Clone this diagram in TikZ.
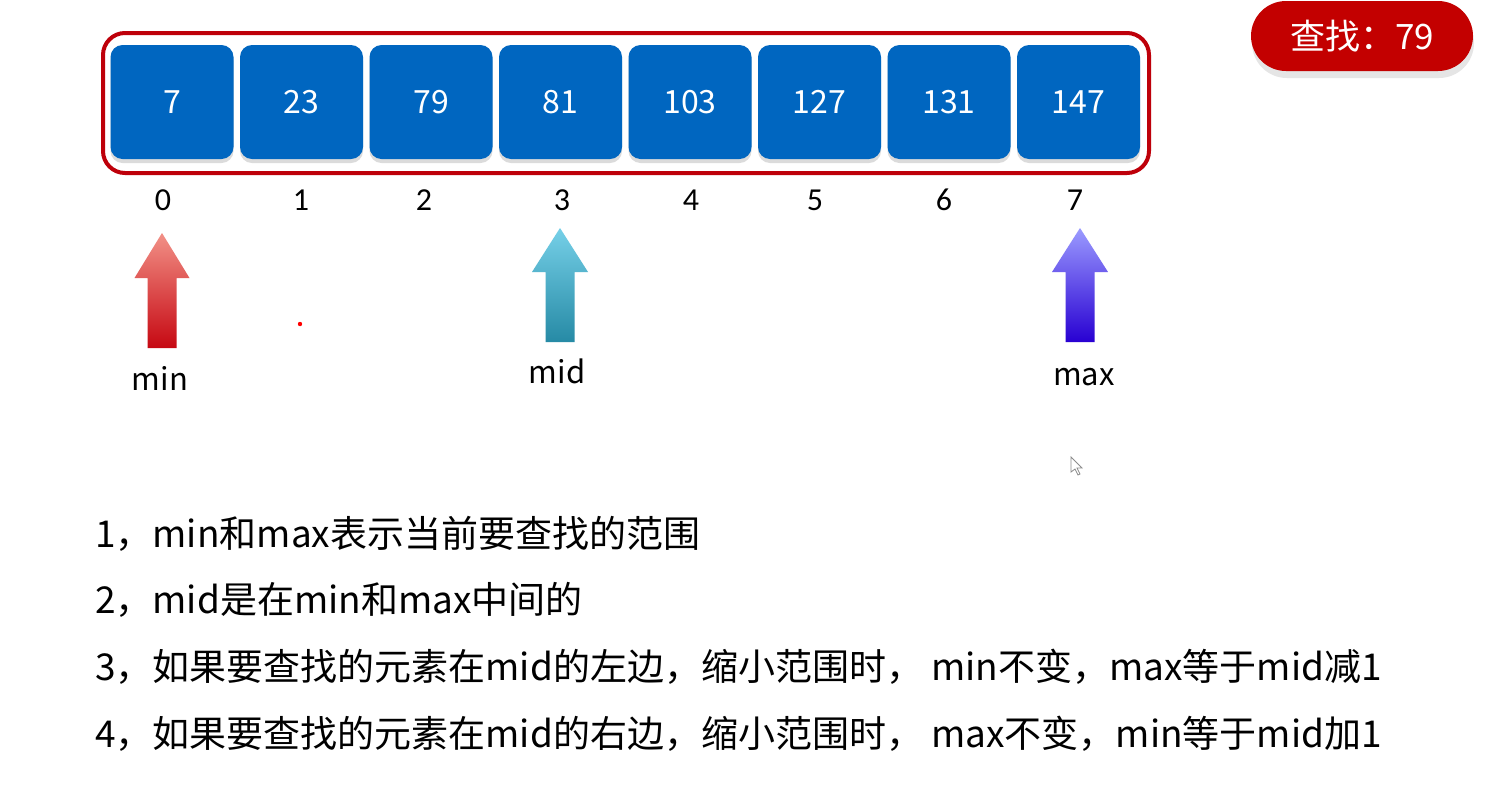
\documentclass[tikz,border=0pt]{standalone}
\usepackage{fontspec}
\setmainfont{Noto Sans CJK SC}
\newfontfamily\idxfont{Carlito}
\begin{document}
\begin{tikzpicture}[x=1pt,y=-1pt,
  cell/.style={fill=cellblue, rounded corners=12pt, minimum width=123pt, minimum height=114pt, inner sep=0pt, text=white, font=\fontsize{32}{34}\selectfont},
  cellshadow/.style={fill=black!14, rounded corners=12pt, minimum width=123pt, minimum height=114pt, inner sep=0pt},
  idx/.style={anchor=base, font=\idxfont\fontsize{32}{34}\selectfont, inner sep=0pt},
  lbl/.style={anchor=base, font=\fontsize{31}{33}\selectfont, inner sep=0pt},
  txt/.style={anchor=base west, font=\fontsize{37}{40}\selectfont, inner sep=0pt}
]
\definecolor{cellblue}{RGB}{0,102,192}
\definecolor{framered}{RGB}{190,0,10}
\definecolor{badgered}{RGB}{195,0,0}
\useasboundingbox (0,0) rectangle (1486,796);
\fill[white] (0,0) rectangle (1486,796);

% badge
\node[fill=black!10, rounded corners=35pt, minimum width=222pt, minimum height=70pt, inner sep=0pt] (badgeshadow) at (1363,43) {};
\node[fill=badgered, rounded corners=35pt, minimum width=222pt, minimum height=70pt, inner sep=0pt, text=white, font=\fontsize{35}{37}\selectfont] (badge) at (1362,36) {查找：79};

% outer frame
\draw[framered, line width=4pt, rounded corners=22pt] (103,33) rectangle (1149,173);

% cells
\foreach \v [count=\i from 0] in {7,23,79,81,103,127,131,147}{
  \node[cellshadow] (s\i) at ({172+129.5*\i},106) {};
  \node[cell] (b\i) at ({172+129.5*\i},102) {\v};
}

% indices
\node[idx] (i0) at (163,210) {0};
\node[idx] (i1) at (301,210) {1};
\node[idx] (i2) at (424,210) {2};
\node[idx] (i3) at (562,210) {3};
\node[idx] (i4) at (691,210) {4};
\node[idx] (i5) at (815,210) {5};
\node[idx] (i6) at (944,210) {6};
\node[idx] (i7) at (1075,210) {7};

% arrows
\shade[top color={rgb,255:red,242;green,145;blue,135}, bottom color={rgb,255:red,198;green,8;blue,18}]
  (162,233) -- (189.5,278) -- (176.5,278) -- (176.5,348) -- (147.5,348) -- (147.5,278) -- (134.5,278) -- cycle;
\shade[top color={rgb,255:red,118;green,208;blue,232}, bottom color={rgb,255:red,38;green,138;blue,165}]
  (560,228) -- (588,272) -- (574.5,272) -- (574.5,342) -- (545.5,342) -- (545.5,272) -- (532,272) -- cycle;
\shade[top color={rgb,255:red,155;green,155;blue,255}, bottom color={rgb,255:red,40;green,0;blue,210}]
  (1080,228) -- (1108,272) -- (1094.5,272) -- (1094.5,342) -- (1065.5,342) -- (1065.5,272) -- (1052,272) -- cycle;

\node[lbl] (lmin) at (160,390) {min};
\node[lbl] (lmid) at (557,383) {mid};
\node[lbl] (lmax) at (1084,385) {max};

% stray pointer dot and cursor
\fill[red] (300,324) circle (2.2pt);
\draw[black!45, line width=0.8pt, fill=white] (1071,457) -- (1071,472) -- (1075,469) -- (1078,475) -- (1080,474) -- (1077,468) -- (1082,468) -- cycle;

% text lines
\node[txt] (t1) at (95,547) {1，min和max表示当前要查找的范围};
\node[txt] (t2) at (95,613) {2，mid是在min和max中间的};
\node[txt] (t3) at (95,680) {3，如果要查找的元素在mid的左边，缩小范围时， min不变，max等于mid减1};
\node[txt] (t4) at (95,747) {4，如果要查找的元素在mid的右边，缩小范围时， max不变，min等于mid加1};
\end{tikzpicture}
\end{document}
